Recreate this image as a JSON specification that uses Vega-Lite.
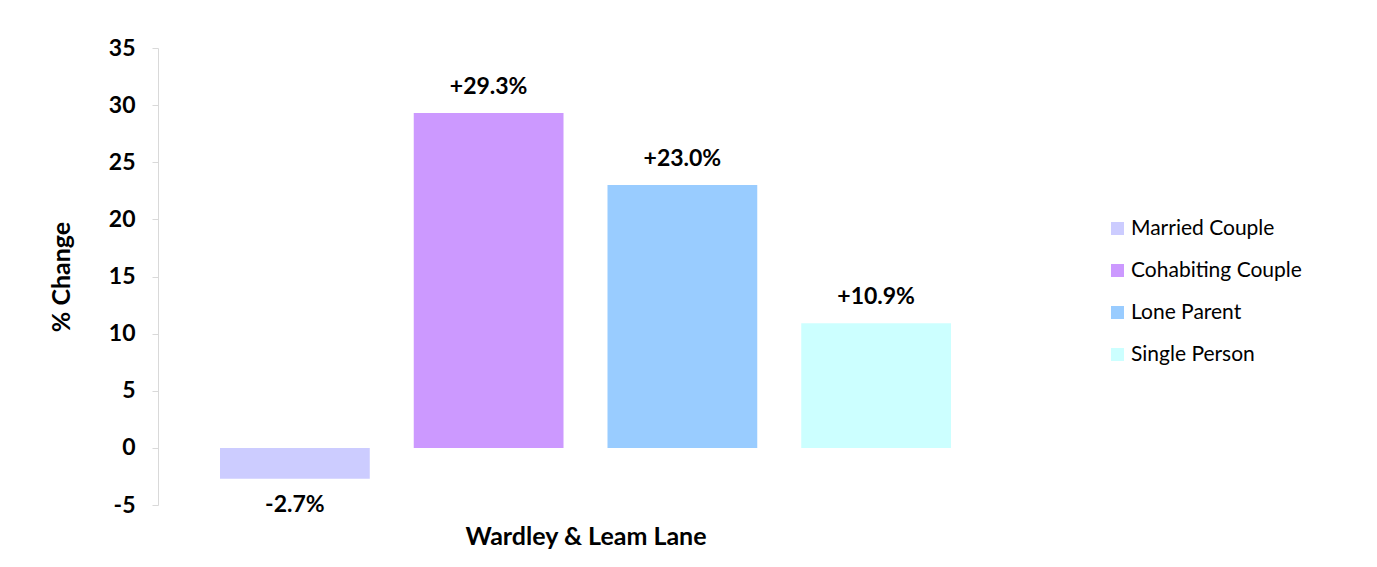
{
  "$schema": "https://vega.github.io/schema/vega-lite/v6.json",
  "width": 855,
  "height": 457,
  "autosize": {"type": "none"},
  "padding": {"left": 158, "top": 48, "right": 364, "bottom": 62},
  "background": "white",
  "config": {
    "font": "Lato",
    "view": {"stroke": null},
    "axis": {"labelFont": "Lato", "titleFont": "Lato"},
    "legend": {"labelFont": "Lato"}
  },
  "data": {
    "values": [
      {"area": "Wardley & Leam Lane", "type": "Married Couple", "value": -2.7, "label": "-2.7%"},
      {"area": "Wardley & Leam Lane", "type": "Cohabiting Couple", "value": 29.3, "label": "+29.3%"},
      {"area": "Wardley & Leam Lane", "type": "Lone Parent", "value": 23.0, "label": "+23.0%"},
      {"area": "Wardley & Leam Lane", "type": "Single Person", "value": 10.9, "label": "+10.9%"}
    ]
  },
  "encoding": {
    "x": {
      "field": "type",
      "type": "nominal",
      "sort": ["Married Couple", "Cohabiting Couple", "Lone Parent", "Single Person"],
      "scale": {"paddingInner": 0.227, "paddingOuter": 0.32},
      "axis": {
        "title": "Wardley & Leam Lane",
        "labels": false,
        "ticks": false,
        "domain": false,
        "titleFontSize": 25,
        "titleFontWeight": "bold",
        "titleColor": "black",
        "titlePadding": 19
      }
    }
  },
  "layer": [
    {
      "mark": {"type": "bar"},
      "encoding": {
        "y": {
          "field": "value",
          "type": "quantitative",
          "scale": {"domain": [-5, 35], "nice": false, "zero": false},
          "axis": {
            "title": "% Change",
            "values": [-5, 0, 5, 10, 15, 20, 25, 30, 35],
            "labelExpr": "'' + datum.value",
            "grid": false,
            "domainColor": "#d9d9d9",
            "tickColor": "#d9d9d9",
            "tickSize": 6,
            "labelFontSize": 23,
            "labelFontWeight": "bold",
            "labelColor": "black",
            "labelPadding": 17,
            "titleFontSize": 25,
            "titleFontWeight": "bold",
            "titleColor": "black",
            "titlePadding": 34
          }
        },
        "color": {
          "field": "type",
          "type": "nominal",
          "sort": ["Married Couple", "Cohabiting Couple", "Lone Parent", "Single Person"],
          "scale": {
            "domain": ["Married Couple", "Cohabiting Couple", "Lone Parent", "Single Person"],
            "range": ["#ccccff", "#cc99ff", "#99ccff", "#ccffff"]
          },
          "legend": {
            "title": null,
            "orient": "none",
            "legendX": 949,
            "legendY": 170,
            "symbolType": "square",
            "symbolSize": 169,
            "symbolStrokeWidth": 0,
            "labelFontSize": 21,
            "labelColor": "black",
            "labelLimit": 400,
            "rowPadding": 20,
            "labelOffset": 3
          }
        }
      }
    },
    {
      "mark": {"type": "rule", "color": "#d9d9d9", "strokeWidth": 1.5},
      "encoding": {"y": {"datum": 0, "type": "quantitative"}}
    },
    {
      "transform": [{"filter": "datum.value >= 0"}],
      "mark": {"type": "text", "baseline": "alphabetic", "dy": -19, "fontSize": 23, "fontWeight": "bold", "color": "black"},
      "encoding": {
        "y": {"field": "value", "type": "quantitative"},
        "text": {"field": "label"}
      }
    },
    {
      "transform": [{"filter": "datum.value < 0"}],
      "mark": {"type": "text", "baseline": "top", "dy": 15, "fontSize": 23, "fontWeight": "bold", "color": "black"},
      "encoding": {
        "y": {"field": "value", "type": "quantitative"},
        "text": {"field": "label"}
      }
    }
  ]
}
